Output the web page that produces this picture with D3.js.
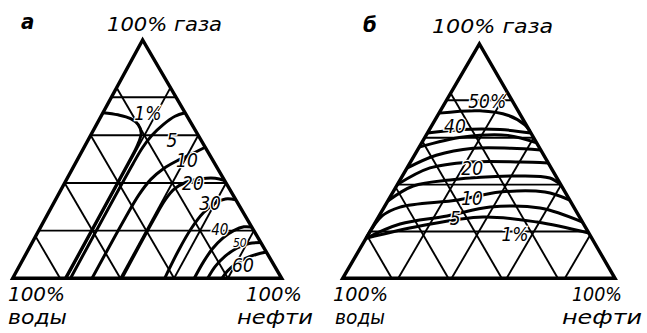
<!DOCTYPE html>
<html><head><meta charset="utf-8">
<script src="https://cdn.jsdelivr.net/npm/d3@7"></script>
<style>body{margin:0;background:#fff}svg{display:block}</style>
</head><body>
<svg id="chart" width="647" height="333"></svg>
<script>
// Ternary grid levels, percent
const gasLevelsA = [20, 40, 60, 76];
const oilLevelsA = [20, 40, 60, 80];
const waterLevelsA = [20, 40, 60, 82.4];
const gasLevelsB = [20, 40, 60, 76];
const oilLevelsB = [20.4, 40, 60.2, 81.6];
const waterLevelsB = [21, 41.6, 61.2, 82];

// Isolines, points as [oil %, gas %]
const isoA = [
  [[0,69.5],[6,68.6],[11.5,67],[15.5,64.5],[18.3,61],[19.4,56],[19.6,48],[19.6,0]],
  [[21.5,0],[21.5,48],[21.8,55],[22.8,60],[24.8,64.5],[27.5,68],[30.5,69.5]],
  [[29.5,0],[29.6,25],[30,35],[31.3,41.5],[33.8,46],[37.5,49.5],[41.5,52.3],[45,55]],
  [[40.6,0],[40.5,25],[40.8,33],[42,37.5],[45,40.3],[50,41.8],[55,42],[59,41]],
  [[56.5,0],[56,12],[56.3,21],[57.6,27.5],[60,31.5],[63,33.3],[67,33]],
  [[67.5,0],[67.6,7],[68.3,12.5],[70,17],[72.5,20],[75.5,21.6],[78.5,21.5]],
  [[72.5,0],[72.9,5],[74.5,9.3],[77.2,12.6],[80.8,14.6],[85,15]],
  [[77.8,0],[78.3,3],[80,6],[82.5,8.4],[85.7,10],[89,11]]
];
const isoLabelsA = ["1%", "5", "10", "20", "30", "40", "50", "60"];
const isoLabelPosA = [[16.8,69.3],[31.2,58],[40.8,49.6],[47.7,40],[58.1,31.6],[67.2,20.3],[77.3,14.8],[82.9,5.6]];
const isoFontA = [19, 19, 19, 19, 19, 15, 12, 19];

const isoB = [
  [[0,17.1],[17.2,22.3],[38.4,26.2],[59.3,24],[80.7,19.3]],
  [[0,17.1],[9.4,23.2],[25,26.6],[38.9,30.4],[57.4,30],[76,24]],
  [[0,17.1],[1.1,26.6],[5.8,30.4],[25.6,33.4],[39.3,36.8],[55.8,36.8],[66.6,33.4]],
  [[0,33],[6.1,39.4],[18.3,42],[43.2,43.7],[54.6,42.8],[60.2,39.8]],
  [[0,40],[8.4,47.1],[21.9,49.6],[40.2,49.6],[50.8,49.2]],
  [[0,47],[8,52.5],[20,55.5],[34,55.5],[45.2,54.8]],
  [[0,56],[14,60.3],[30,61],[42.2,57.8]],
  [[0,62],[12,63.5],[26,63.5],[38,62]],
  [[0,70.5],[14.5,71.5],[26,69.5],[34,65.5],[37,63]]
];
const isoLabelsB = ["50%", "40", "20", "10", "5", "1%"];
const isoLabelPosB = [[15.1,75.6],[8.6,65],[23.9,47.1],[30.3,34.3],[28.4,25.7],[53.8,18.9]];
const isoFontB = [19, 19, 19, 19, 19, 19];

const panelLetters = ["а", "б"];
const topLabel = "100% газа";
const leftLabels = ["100%", "воды"];
const rightLabels = ["100%", "нефти"];

const svg = d3.select("#chart");
const FONT = "'DejaVu Sans Condensed','DejaVu Sans',sans-serif";

function drawPanel(cfg) {
  const x = d3.scaleLinear().domain([0, 100]).range([cfg.left, cfg.right]);
  const y = d3.scaleLinear().domain([0, 100]).range([cfg.base, cfg.apexY]);
  // oil runs along the base, gas rises toward the apex
  const P = ([o, g]) => [x(o + g * cfg.skew), y(g)];
  const g = svg.append("g");
  const line = d3.line().x(d => P(d)[0]).y(d => P(d)[1]);
  const curve = d3.line().x(d => P(d)[0]).y(d => P(d)[1]).curve(d3.curveCatmullRom.alpha(0.5));

  const grid = g.append("g").attr("stroke", "#000").attr("stroke-width", 1.9).attr("fill", "none");
  cfg.gas.forEach(v => grid.append("path").attr("d", line([[0, v], [100 - v, v]])));
  cfg.oil.forEach(v => grid.append("path").attr("d", line([[v, 0], [v, 100 - v]])));
  cfg.water.forEach(v => grid.append("path").attr("d", line([[100 - v, 0], [0, 100 - v]])));

  g.append("g").selectAll("path").data(cfg.iso).join("path")
    .attr("d", curve).attr("fill", "none").attr("stroke", "#000").attr("stroke-width", 3);

  g.append("path").attr("d", line([[0, 0], [100, 0], [0, 100]]) + "Z")
    .attr("fill", "none").attr("stroke", "#000").attr("stroke-width", 3.4).attr("stroke-linejoin", "miter");

  g.append("g").selectAll("text").data(cfg.isoLabels).join("text")
    .attr("x", (d, i) => P(cfg.isoPos[i])[0]).attr("y", (d, i) => P(cfg.isoPos[i])[1])
    .attr("text-anchor", "middle").attr("dominant-baseline", "central")
    .attr("font-family", FONT).attr("font-style", "italic")
    .attr("font-size", (d, i) => cfg.isoFont[i])
    .attr("fill", "#000").attr("stroke", "#fff").attr("stroke-width", 2.5).attr("paint-order", "stroke")
    .text(d => d);

  const t = g.append("g").attr("font-family", FONT).attr("font-style", "italic").attr("fill", "#000");
  t.append("text").attr("x", cfg.letterX).attr("y", cfg.letterY).attr("font-size", 22)
    .attr("font-weight", "bold").text(cfg.letter);
  const lab = (s, x0, w, yb) => t.append("text").attr("x", x0).attr("y", yb).attr("font-size", 19)
    .attr("textLength", w).attr("lengthAdjust", "spacingAndGlyphs").text(s);
  lab(topLabel, cfg.top[0], cfg.top[1], cfg.top[2]);
  lab(leftLabels[0], cfg.bl[0], cfg.bl[1], 301);
  lab(leftLabels[1], cfg.bl[2], cfg.bl[3], 324);
  lab(rightLabels[0], cfg.br[0], cfg.br[1], 301);
  lab(rightLabels[1], cfg.br[2], cfg.br[3], 324);
}

drawPanel({left: 12.7, right: 281.7, base: 278.3, apexY: 40, skew: 0.483,
  gas: gasLevelsA, oil: oilLevelsA, water: waterLevelsA,
  iso: isoA, isoLabels: isoLabelsA, isoPos: isoLabelPosA, isoFont: isoFontA,
  letter: panelLetters[0], letterX: 21, letterY: 29,
  top: [107, 115, 31], bl: [8, 57, 8, 59], br: [246, 56, 237, 76]});
drawPanel({left: 342.7, right: 615, base: 278.3, apexY: 44, skew: 0.502,
  gas: gasLevelsB, oil: oilLevelsB, water: waterLevelsB,
  iso: isoB, isoLabels: isoLabelsB, isoPos: isoLabelPosB, isoFont: isoFontB,
  letter: panelLetters[1], letterX: 363, letterY: 32,
  top: [432, 121, 33], bl: [333, 55, 335, 50], br: [572, 50, 562, 80]});
</script>
</body></html>
